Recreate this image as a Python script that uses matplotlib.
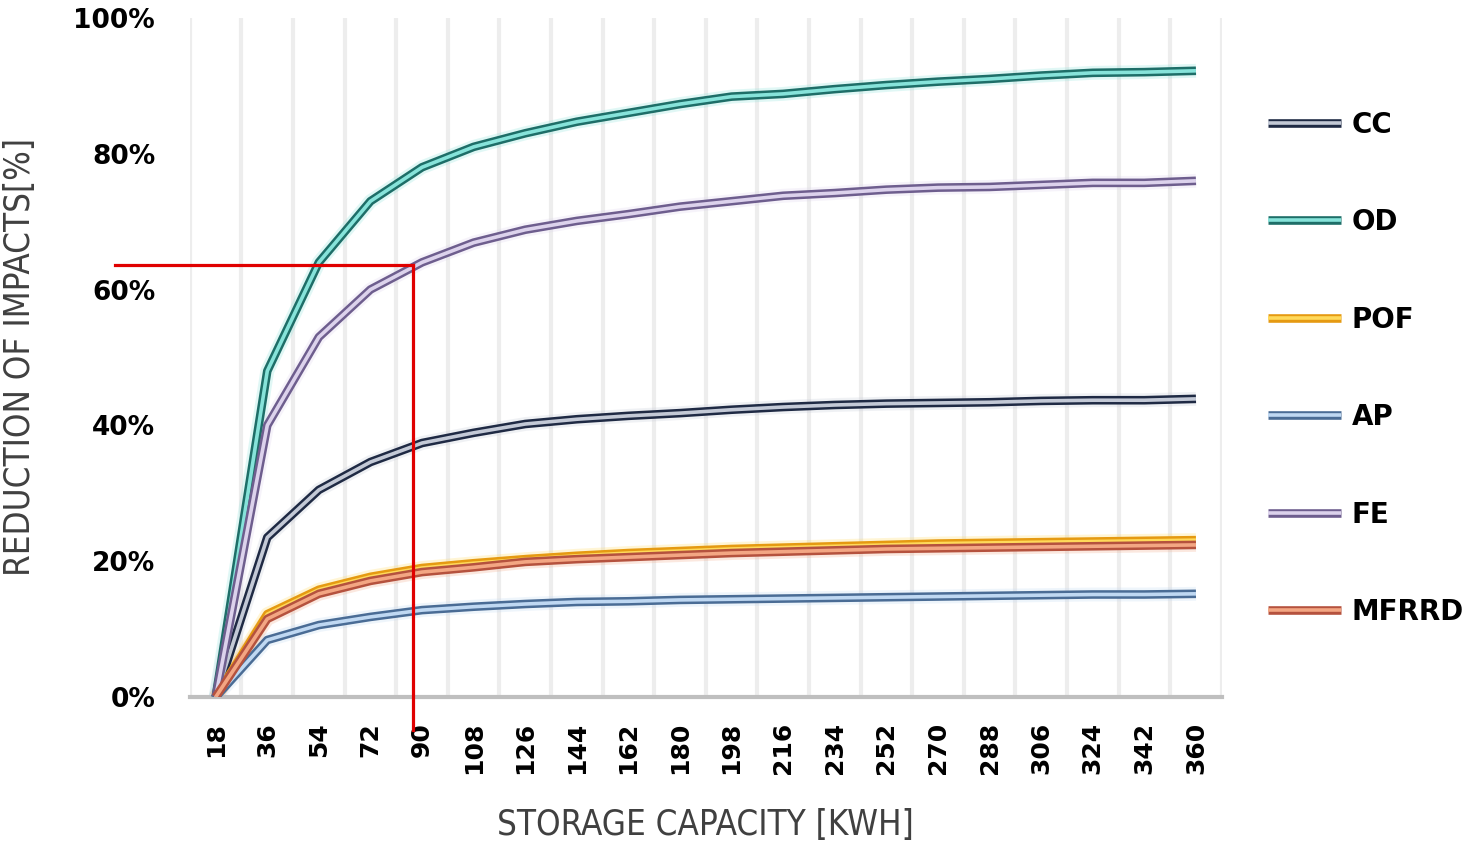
import numpy as np
import matplotlib
matplotlib.use("Agg")
import matplotlib.pyplot as plt
from matplotlib.lines import Line2D
from matplotlib.legend_handler import HandlerTuple
from matplotlib.ticker import FuncFormatter

capacity = [18, 36, 54, 72, 90, 108, 126, 144, 162, 180,
            198, 216, 234, 252, 270, 288, 306, 324, 342, 360]

# reduction of impacts in %
cc = [0, 23.5, 30.5, 34.6, 37.4, 38.9, 40.2, 40.9, 41.4, 41.8,
      42.3, 42.7, 43.0, 43.2, 43.3, 43.4, 43.6, 43.7, 43.7, 43.9]
od = [0, 48.0, 64.0, 73.0, 78.0, 81.0, 83.0, 84.7, 86.0, 87.3,
      88.4, 88.8, 89.5, 90.1, 90.6, 91.0, 91.5, 91.9, 92.0, 92.2]
pof = [0, 12.2, 15.8, 17.7, 19.0, 19.7, 20.3, 20.8, 21.2, 21.5,
       21.8, 22.0, 22.2, 22.4, 22.6, 22.7, 22.8, 22.9, 23.0, 23.1]
ap = [0, 8.4, 10.6, 11.8, 12.8, 13.3, 13.7, 14.0, 14.1, 14.3,
      14.4, 14.5, 14.6, 14.7, 14.8, 14.9, 15.0, 15.1, 15.1, 15.2]
fe = [0, 40.0, 53.0, 60.0, 64.0, 66.9, 68.8, 70.1, 71.1, 72.2,
      73.0, 73.8, 74.2, 74.7, 75.0, 75.1, 75.4, 75.7, 75.7, 76.0]
mfrrd = [0, 11.5, 15.2, 17.1, 18.4, 19.1, 19.9, 20.3, 20.6, 20.9,
         21.2, 21.4, 21.6, 21.8, 21.9, 22.0, 22.1, 22.2, 22.3, 22.4]

series = [
    ("CC", cc, "#1F2A44", "#C3C9D6"),
    ("OD", od, "#1E6E68", "#86E3DA"),
    ("POF", pof, "#E59A12", "#FFD95A"),
    ("AP", ap, "#4A6C95", "#BFD8F2"),
    ("FE", fe, "#6E5E8E", "#DCD2EC"),
    ("MFRRD", mfrrd, "#B5523E", "#F3A683"),
]

# marker lines: 63.6 % reduction reached at ~86 kWh
mark_x = 3.83
mark_y = 63.6

fig = plt.figure(figsize=(14.72, 8.48), dpi=100)
ax = fig.add_axes([0.129, 0.178, 0.701, 0.801])

x = np.arange(len(capacity))
handles = []
for name, vals, edge, inner in series:
    ax.plot(x, vals, color=inner, lw=10, alpha=0.25, solid_capstyle="butt", zorder=2)
    ax.plot(x, vals, color=edge, lw=6.2, solid_capstyle="butt", zorder=3)
    ax.plot(x, vals, color=inner, lw=2.6, solid_capstyle="butt", zorder=3)
    h = (Line2D([], [], color=edge, lw=6.2, solid_capstyle="butt"),
         Line2D([], [], color=inner, lw=2.6, solid_capstyle="butt"))
    handles.append(h)

# red guide lines
ax.plot([-1.96, mark_x], [mark_y, mark_y], color="#E00000", lw=2.3,
        clip_on=False, zorder=5)
ax.plot([mark_x, mark_x], [mark_y, -4.9], color="#E00000", lw=2.3,
        clip_on=False, zorder=5)

ax.set_xlim(-0.5, len(capacity) - 0.5)
ax.set_ylim(0, 100)
ax.set_xticks(x)
ax.set_xticklabels([str(c) for c in capacity], rotation=90,
                   fontsize=18, fontweight="bold")
ax.set_xticks(np.arange(-0.5, len(capacity), 1.0), minor=True)
ax.set_yticks(np.arange(0, 101, 20))
ax.yaxis.set_major_formatter(FuncFormatter(lambda v, p: f"{v:.0f}%"))
for lab in ax.get_yticklabels():
    lab.set_fontsize(19)
    lab.set_fontweight("bold")
ax.tick_params(axis="both", which="both", length=0)
ax.tick_params(axis="x", which="major", pad=18)
ax.tick_params(axis="y", pad=25)
ax.grid(True, axis="x", which="minor", color="#EDEDED", lw=3, zorder=0)
ax.grid(False, axis="x", which="major")

for s in ["top", "right", "left"]:
    ax.spines[s].set_visible(False)
ax.spines["bottom"].set_color("#BFBFBF")
ax.spines["bottom"].set_linewidth(3)

label_font = ["DejaVu Sans"]
ax.set_xlabel("STORAGE CAPACITY [KWH]", fontsize=25, color="#404040",
              family=label_font, stretch="condensed", labelpad=24)
ax.set_ylabel("REDUCTION OF IMPACTS[%]", fontsize=25, color="#404040",
              family=label_font, stretch="condensed", labelpad=26)

ax.legend(handles, [s[0] for s in series],
          handler_map={tuple: HandlerTuple(ndivide=1)},
          loc="upper left", bbox_to_anchor=(1.021, 0.9), frameon=False,
          prop={"size": 20, "weight": "bold"}, handlelength=2.6,
          handletextpad=0.4, labelspacing=2.5)

fig.savefig("out.png", dpi=100)
